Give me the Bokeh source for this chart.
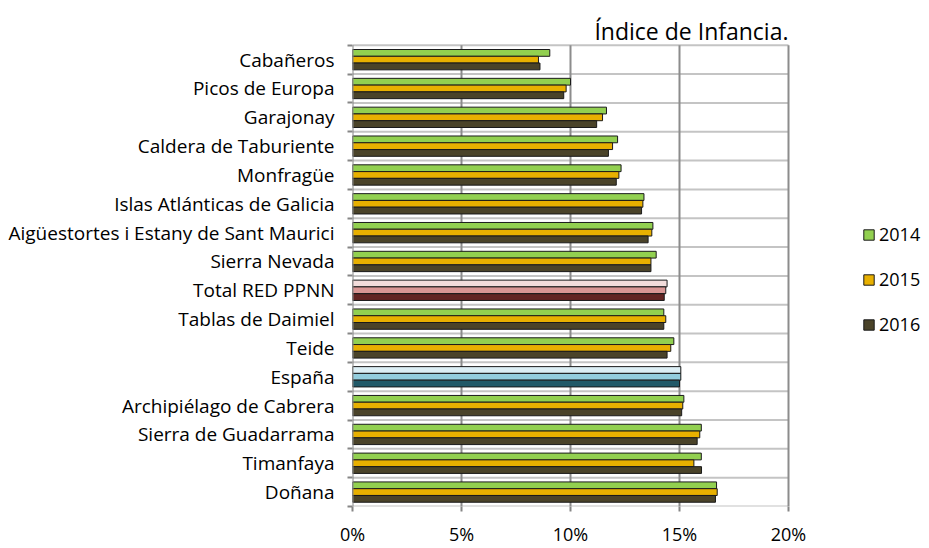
from bokeh.plotting import figure
from bokeh.models import (Range1d, FixedTicker, ColumnDataSource, Legend, LegendItem, Label)
from bokeh.embed import file_html
from bokeh.resources import INLINE

categories = ["Cabañeros", "Picos de Europa", "Garajonay", "Caldera de Taburiente",
              "Monfragüe", "Islas Atlánticas de Galicia",
              "Aigüestortes i Estany de Sant Maurici", "Sierra Nevada",
              "Total RED PPNN", "Tablas de Daimiel", "Teide", "España",
              "Archipiélago de Cabrera", "Sierra de Guadarrama", "Timanfaya", "Doñana"]
v2014 = [9.05, 10.0, 11.65, 12.16, 12.32, 13.37, 13.78, 13.93, 14.43, 14.28, 14.74, 15.06, 15.2, 16.0, 16.0, 16.7]
v2015 = [8.53, 9.8, 11.47, 11.93, 12.22, 13.32, 13.73, 13.69, 14.37, 14.37, 14.6, 15.06, 15.15, 15.93, 15.66, 16.73]
v2016 = [8.6, 9.69, 11.2, 11.74, 12.1, 13.26, 13.56, 13.69, 14.3, 14.28, 14.43, 15.0, 15.1, 15.81, 16.01, 16.65]
years = ["2014", "2015", "2016"]
x_ticks = [0, 5, 10, 15, 20]
x_tick_labels = ["0%", "5%", "10%", "15%", "20%"]

base_colors = ["#92d050", "#e8b000", "#4a4329"]
special_colors = {
    "Total RED PPNN": ["#f2dcdb", "#d99694", "#632523"],
    "España": ["#dbeef4", "#93cddd", "#215968"],
}

n = len(categories)
ypos = [n - 1 - i for i in range(n)]
FONT = "Open Sans"
XMAX = 20
YMIN, YMAX = -0.5, n - 0.5

# frame extended right/up so that legend and title (drawn in the frame) are not clipped
W, H = 929, 548
left_px, right_px, top_px, bottom_px = 352, 788, 45, 509
frame_right, frame_top = 925, 4
x_end = XMAX * (frame_right - left_px) / (right_px - left_px)
unit = (bottom_px - top_px) / n
y_end = YMAX + (top_px - frame_top) / unit

p = figure(width=W, height=H, output_backend="svg", toolbar_location=None,
           x_range=Range1d(0, x_end), y_range=Range1d(YMIN, y_end),
           min_border_left=left_px, min_border_right=W - frame_right,
           min_border_top=frame_top, min_border_bottom=H - bottom_px)
p.outline_line_color = None
p.background_fill_color = "white"
p.xgrid.visible = False
p.ygrid.visible = False

boundaries = [i + 0.5 for i in range(-1, n)]
# horizontal grid lines (category boundaries)
p.segment(x0=0, x1=XMAX, y0=boundaries, y1=boundaries, line_color="#c4c4c4", line_width=2)
# vertical grid lines
vx = x_ticks[1:]
p.segment(x0=vx, x1=vx, y0=YMIN, y1=YMAX, line_color="#8c8c8c", line_width=2)

off = 0.235
renderers = []
for k, (yr, vals) in enumerate(zip(years, [v2014, v2015, v2016])):
    cols = [special_colors.get(c, base_colors)[k] for c in categories]
    src = ColumnDataSource(dict(y=[y + off * (1 - k) for y in ypos], right=vals, color=cols))
    r = p.hbar(y="y", left=0, right="right", height=off, source=src,
               fill_color="color", line_color="#1a1a1a", line_width=1)
    renderers.append(r)

# left axis line
p.segment(x0=0, x1=0, y0=YMIN, y1=YMAX, line_color="#868686", line_width=2)

# axes
p.yaxis.ticker = FixedTicker(ticks=ypos, minor_ticks=boundaries)
p.yaxis.major_label_overrides = {y: c for y, c in zip(ypos, categories)}
p.yaxis.major_tick_line_color = None
p.yaxis.minor_tick_line_color = "#868686"
p.yaxis.minor_tick_out = 5
p.yaxis.minor_tick_in = 0
p.yaxis.minor_tick_line_width = 2
p.yaxis.axis_line_color = None
p.yaxis.major_label_text_font = FONT
p.yaxis.major_label_text_font_size = "19px"
p.yaxis.major_label_text_color = "#000000"
p.yaxis.major_label_standoff = 12

p.xaxis.ticker = FixedTicker(ticks=x_ticks)
p.xaxis.major_label_overrides = {t: l for t, l in zip(x_ticks, x_tick_labels)}
p.xaxis.axis_line_color = None
p.xaxis.major_tick_line_color = "#868686"
p.xaxis.major_tick_line_width = 2
p.xaxis.major_tick_out = 5
p.xaxis.major_tick_in = 0
p.xaxis.minor_tick_line_color = None
p.xaxis.major_label_text_font = FONT
p.xaxis.major_label_text_font_size = "18px"
p.xaxis.major_label_text_color = "#000000"
p.xaxis.major_label_standoff = 10

legend = Legend(items=[LegendItem(label=y, renderers=[r], index=0) for y, r in zip(years, renderers)],
                location=(510, 170), orientation="vertical")
legend.border_line_color = None
legend.background_fill_alpha = 0
legend.padding = 0
legend.margin = 0
legend.glyph_width = 13
legend.glyph_height = 13
legend.label_height = 20
legend.spacing = 21
legend.label_standoff = 4
legend.label_text_font = FONT
legend.label_text_font_size = "18px"
legend.label_text_color = "#000000"
p.add_layout(legend)

title = Label(x=XMAX, y=YMAX, text="Índice de Infancia.", text_align="right",
              text_baseline="bottom", y_offset=-2, text_font=FONT,
              text_font_size="23px", text_color="#000000")
p.add_layout(title)

open("out.html", "w").write(file_html(p, INLINE))
